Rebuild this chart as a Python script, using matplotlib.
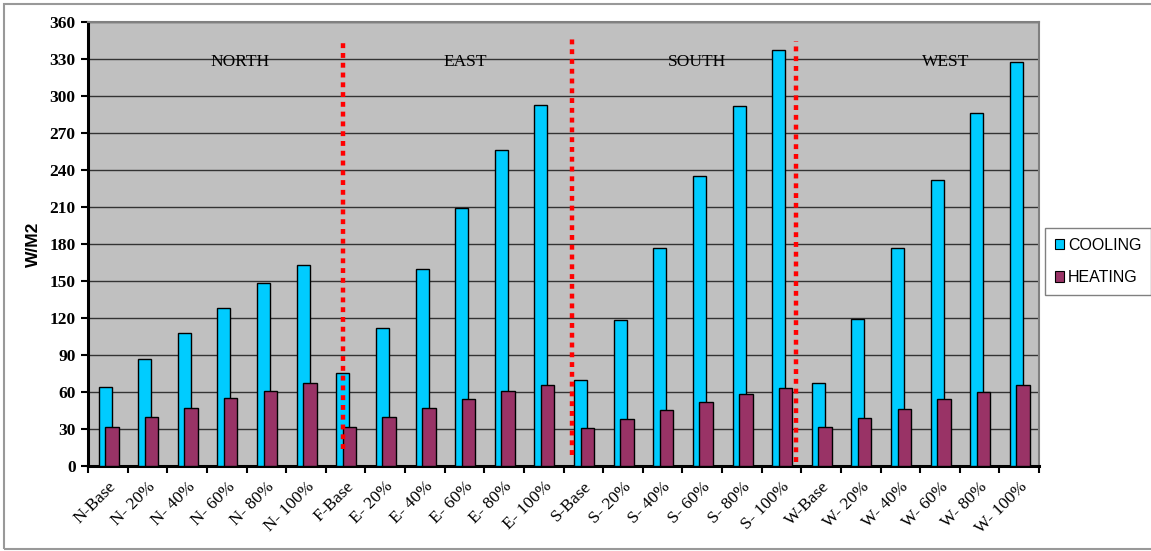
import numpy as np
import matplotlib
matplotlib.use('Agg')
import matplotlib.pyplot as plt
from matplotlib.patches import Rectangle

# category labels (F-Base typo kept as in the original chart)
labels = ['N-Base', 'N- 20%', 'N- 40%', 'N- 60%', 'N- 80%', 'N- 100%',
          'F-Base', 'E- 20%', 'E- 40%', 'E- 60%', 'E- 80%', 'E- 100%',
          'S-Base', 'S- 20%', 'S- 40%', 'S- 60%', 'S- 80%', 'S- 100%',
          'W-Base', 'W- 20%', 'W- 40%', 'W- 60%', 'W- 80%', 'W- 100%']

cooling = [64, 87, 108, 128, 148, 163,
           75, 112, 160, 209, 256, 293,
           70, 118, 177, 235, 292, 337,
           67, 119, 177, 232, 286, 328]

heating = [32, 40, 47, 55, 61, 67,
           32, 40, 47, 54, 61, 66,
           31, 38, 45, 52, 58, 63,
           32, 39, 46, 54, 60, 66]

# orientation captions and the hand drawn separators (x in category units)
regions = ['NORTH', 'EAST', 'SOUTH', 'WEST']
region_x = [3.33, 9.03, 14.86, 21.14]
region_y = 328
sep_x = [5.93, 11.71, 17.37]
sep_top = [343, 348, 345]
sep_bottom = [14, 9, 3]

fig = plt.figure(figsize=(11.51, 5.51), dpi=100)
ax = fig.add_axes([0.0765, 0.1543, 0.9027 - 0.0765, 0.960 - 0.1543])

# outer chart border
fig.patches.append(Rectangle((4 / 1151, 2 / 551), 1.0, 545 / 551, transform=fig.transFigure,
                             fill=False, edgecolor='#999999', linewidth=1.5))

x = np.arange(len(labels))
ax.set_facecolor('#C0C0C0')
ax.bar(x - 0.07, cooling, width=0.33, color='#00CCFF', edgecolor='black',
       linewidth=1.0, label='COOLING', zorder=3)
ax.bar(x + 0.10, heating, width=0.34, color='#993366', edgecolor='black',
       linewidth=1.0, label='HEATING', zorder=4)

for sx, st, sb in zip(sep_x, sep_top, sep_bottom):
    ax.plot([sx, sx], [sb, st], color='#FF0000', linewidth=3.2,
            linestyle=(0, (1.1, 1.1)), dash_capstyle='butt', zorder=5)

for name, rx in zip(regions, region_x):
    ax.text(rx, region_y, name, ha='center', va='center', fontsize=12.5,
            family='Liberation Serif', zorder=6)

ax.set_xlim(-0.5, len(labels) - 0.5)
ax.set_ylim(0, 360)
ax.set_yticks(np.arange(0, 361, 30))
ax.yaxis.grid(True, color='#333333', linewidth=1.0, zorder=0)
ax.set_axisbelow(True)

ax.set_xticks(x)
ax.set_xticklabels(labels, rotation=45, ha='right', rotation_mode='anchor',
                   fontsize=12.5, family='Liberation Serif')
ax.set_xticks(np.arange(-0.5, len(labels), 1), minor=True)
ax.tick_params(axis='x', which='major', length=0, pad=9)
ax.tick_params(axis='x', which='minor', length=5, width=1.5, color='black')
ax.tick_params(axis='y', length=5, width=1.5, pad=4)
for t in ax.get_yticklabels():
    t.set_fontsize(12.5)
    t.set_fontweight('bold')
    t.set_family('Liberation Serif')

ax.spines['left'].set_linewidth(2.2)
ax.spines['bottom'].set_linewidth(2.2)
ax.spines['top'].set_color('#808080')
ax.spines['right'].set_color('#808080')
ax.spines['top'].set_linewidth(1.5)
ax.spines['right'].set_linewidth(1.5)

ax.set_ylabel('W/M2', fontsize=12.5, fontweight='bold', family='Liberation Sans', labelpad=6)

leg = fig.legend(loc='upper left', bbox_to_anchor=(1045 / 1151, 1 - 228 / 551),
                 prop={'family': 'Liberation Sans', 'size': 11.5},
                 handlelength=0.6, handleheight=0.6, handletextpad=0.25,
                 borderpad=0.6, borderaxespad=0, labelspacing=1.1, fancybox=False,
                 edgecolor='#808080', framealpha=1)
leg.get_frame().set_linewidth(1.0)
for h in leg.legend_handles:
    h.set_linewidth(0.8)

fig.savefig('out.png', dpi=100)
